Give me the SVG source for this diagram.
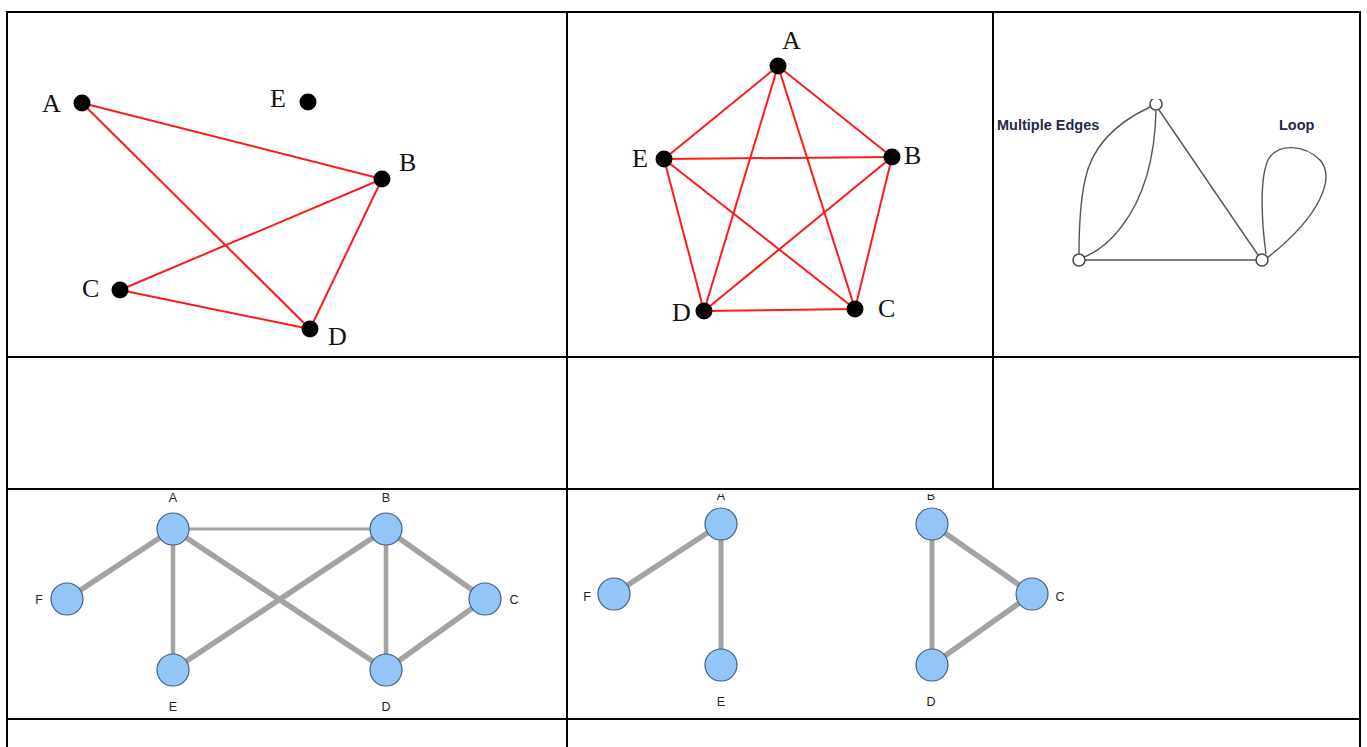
<svg xmlns="http://www.w3.org/2000/svg" width="1367" height="747" viewBox="0 0 1367 747">
<style>
.tb{stroke:#000;stroke-width:2;fill:none}
.re{stroke:#ff1a1a;stroke-width:2;fill:none}
.dot{fill:#000}
.tl{font-family:"Liberation Serif","Times New Roman",serif;font-size:26px;fill:#111}
.ge{stroke:#555;stroke-width:1.4;fill:none}
.gn{fill:#fff;stroke:#444;stroke-width:1.5}
.gl{font-family:"Liberation Sans",Arial,sans-serif;font-weight:bold;font-size:14.5px;fill:#1f2a48}
.be{stroke:#a3a3a3;fill:none}
.bn{fill:#93c5f6;stroke:#41607e;stroke-width:1.2}
.bl{font-family:"Liberation Sans",Arial,sans-serif;font-size:12.5px;fill:#222;text-anchor:middle}
</style>
<defs>
<clipPath id="c3"><rect x="995" y="99" width="364" height="257"/></clipPath>
<clipPath id="c5"><rect x="568" y="494" width="792" height="224"/></clipPath>
</defs>
<rect width="1367" height="747" fill="#fff"/>
<g id="table">
<line class="tb" x1="7" y1="12" x2="1360" y2="12"/>
<line class="tb" x1="7" y1="11" x2="7" y2="747"/>
<line class="tb" x1="1360" y1="11" x2="1360" y2="747"/>
<line class="tb" x1="7" y1="357" x2="1360" y2="357"/>
<line class="tb" x1="7" y1="489" x2="1360" y2="489"/>
<line class="tb" x1="7" y1="719" x2="1360" y2="719"/>
<line class="tb" x1="567" y1="11" x2="567" y2="747"/>
<line class="tb" x1="993" y1="11" x2="993" y2="489"/>
</g>
<g id="graph1">
<g id="g1-edges">
<line class="re" x1="82" y1="103" x2="382" y2="179"/>
<line class="re" x1="82" y1="103" x2="310" y2="329"/>
<line class="re" x1="120" y1="290" x2="382" y2="179"/>
<line class="re" x1="382" y1="179" x2="310" y2="329"/>
<line class="re" x1="120" y1="290" x2="310" y2="329"/>
</g>
<g id="g1-A"><circle class="dot" cx="82" cy="103" r="8.5"/><text class="tl" x="42" y="112">A</text></g>
<g id="g1-E"><circle class="dot" cx="308" cy="102" r="8.5"/><text class="tl" x="270" y="107">E</text></g>
<g id="g1-B"><circle class="dot" cx="382" cy="179" r="8.5"/><text class="tl" x="399" y="171">B</text></g>
<g id="g1-C"><circle class="dot" cx="120" cy="290" r="8.5"/><text class="tl" x="82" y="297">C</text></g>
<g id="g1-D"><circle class="dot" cx="310" cy="329" r="8.5"/><text class="tl" x="328" y="345">D</text></g>
</g>
<g id="graph2">
<g id="g2-edges">
<line class="re" x1="778" y1="66" x2="892" y2="157"/>
<line class="re" x1="778" y1="66" x2="855" y2="309"/>
<line class="re" x1="778" y1="66" x2="704" y2="311"/>
<line class="re" x1="778" y1="66" x2="664" y2="159"/>
<line class="re" x1="892" y1="157" x2="855" y2="309"/>
<line class="re" x1="892" y1="157" x2="704" y2="311"/>
<line class="re" x1="892" y1="157" x2="664" y2="159"/>
<line class="re" x1="855" y1="309" x2="704" y2="311"/>
<line class="re" x1="855" y1="309" x2="664" y2="159"/>
<line class="re" x1="704" y1="311" x2="664" y2="159"/>
</g>
<g id="g2-A"><circle class="dot" cx="778" cy="66" r="8.5"/><text class="tl" x="782" y="49">A</text></g>
<g id="g2-B"><circle class="dot" cx="892" cy="157" r="8.5"/><text class="tl" x="904" y="164">B</text></g>
<g id="g2-C"><circle class="dot" cx="855" cy="309" r="8.5"/><text class="tl" x="878" y="317">C</text></g>
<g id="g2-D"><circle class="dot" cx="704" cy="311" r="8.5"/><text class="tl" x="672" y="321">D</text></g>
<g id="g2-E"><circle class="dot" cx="664" cy="159" r="8.5"/><text class="tl" x="632" y="167">E</text></g>
</g>
<g id="graph3" clip-path="url(#c3)">
<g id="g3-edges">
<line class="ge" x1="1085" y1="260" x2="1256" y2="260"/>
<line class="ge" x1="1159" y1="110" x2="1258" y2="255"/>
<path class="ge" d="M1150,107 C1118,122 1092,145 1085,180 C1079,208 1079,235 1079,254"/>
<path class="ge" d="M1156,111 C1155,150 1148,192 1122,226 C1110,242 1097,252 1084,257"/>
<path class="ge" d="M1266,254 C1262,225 1259,180 1268,160 C1278,142 1305,145 1320,160 C1335,177 1322,215 1267,258"/>
</g>
<g id="g3-top"><circle class="gn" cx="1156" cy="104" r="6"/></g>
<g id="g3-left"><circle class="gn" cx="1079" cy="260" r="6"/></g>
<g id="g3-right"><circle class="gn" cx="1262" cy="260" r="6"/></g>
<text class="gl" x="997" y="130">Multiple Edges</text>
<text class="gl" x="1279" y="130">Loop</text>
</g>
<g id="graph4">
<g id="g4-edges">
<line class="be" stroke-width="3" x1="173" y1="529" x2="386" y2="529"/>
<line class="be" stroke-width="5.5" x1="173" y1="529" x2="67" y2="599"/>
<line class="be" stroke-width="4.5" x1="173" y1="529" x2="173" y2="670"/>
<line class="be" stroke-width="5.5" x1="173" y1="529" x2="386" y2="670"/>
<line class="be" stroke-width="5.5" x1="386" y1="529" x2="173" y2="670"/>
<line class="be" stroke-width="4.5" x1="386" y1="529" x2="386" y2="670"/>
<line class="be" stroke-width="5.5" x1="386" y1="529" x2="485" y2="599"/>
<line class="be" stroke-width="5.5" x1="485" y1="599" x2="386" y2="670"/>
</g>
<g id="g4-A"><circle class="bn" cx="173" cy="529" r="16"/><text class="bl" x="173" y="502">A</text></g>
<g id="g4-B"><circle class="bn" cx="386" cy="529" r="16"/><text class="bl" x="386" y="502">B</text></g>
<g id="g4-C"><circle class="bn" cx="485" cy="599" r="16"/><text class="bl" x="514" y="604">C</text></g>
<g id="g4-D"><circle class="bn" cx="386" cy="670" r="16"/><text class="bl" x="386" y="711">D</text></g>
<g id="g4-E"><circle class="bn" cx="173" cy="670" r="16"/><text class="bl" x="173" y="711">E</text></g>
<g id="g4-F"><circle class="bn" cx="67" cy="599" r="16"/><text class="bl" x="39" y="604">F</text></g>
</g>
<g id="graph5" clip-path="url(#c5)">
<g id="g5-edges">
<line class="be" stroke-width="5.5" x1="721" y1="524" x2="614" y2="594"/>
<line class="be" stroke-width="5" x1="721" y1="524" x2="721" y2="665"/>
<line class="be" stroke-width="5" x1="932" y1="524" x2="932" y2="665"/>
<line class="be" stroke-width="5.5" x1="932" y1="524" x2="1032" y2="594"/>
<line class="be" stroke-width="5.5" x1="1032" y1="594" x2="932" y2="665"/>
</g>
<g id="g5-A"><circle class="bn" cx="721" cy="524" r="16"/><text class="bl" x="721" y="500">A</text></g>
<g id="g5-B"><circle class="bn" cx="932" cy="524" r="16"/><text class="bl" x="931" y="500">B</text></g>
<g id="g5-C"><circle class="bn" cx="1032" cy="594" r="16"/><text class="bl" x="1060" y="601">C</text></g>
<g id="g5-D"><circle class="bn" cx="932" cy="665" r="16"/><text class="bl" x="931" y="706">D</text></g>
<g id="g5-E"><circle class="bn" cx="721" cy="665" r="16"/><text class="bl" x="721" y="706">E</text></g>
<g id="g5-F"><circle class="bn" cx="614" cy="594" r="16"/><text class="bl" x="587" y="601">F</text></g>
</g>
</svg>
